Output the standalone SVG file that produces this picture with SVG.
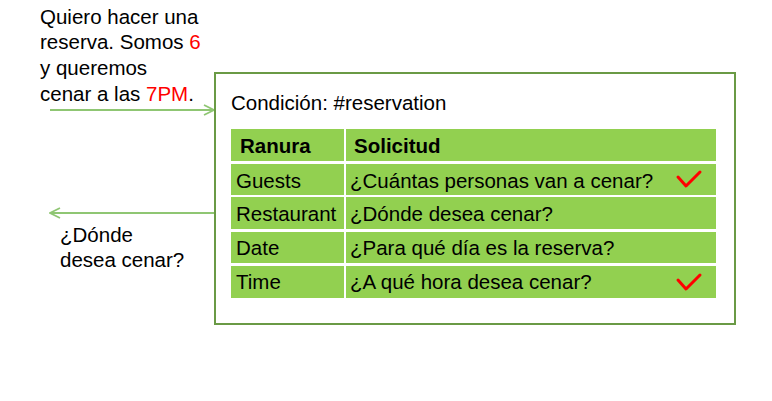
<svg xmlns="http://www.w3.org/2000/svg" width="772" height="401" viewBox="0 0 772 401">
<defs>
<style>
text{font-family:"Liberation Sans",Arial,sans-serif;fill:#000}
.t{font-size:20.5px}
.c{font-size:20.5px}
.b{font-weight:bold}
.red{fill:#ff0000}
.cell{fill:#92d050}
.conn{stroke:#8fc673;stroke-width:2;fill:none}
.chk{stroke:#ff0000;stroke-width:3;fill:none;stroke-linecap:round;stroke-linejoin:round}
</style>
<marker id="ah" viewBox="0 0 12 12" refX="11" refY="6" markerWidth="12" markerHeight="12" markerUnits="userSpaceOnUse" orient="auto">
<path d="M1,1 L11,6 L1,11" fill="none" stroke="#8fc673" stroke-width="1.8"/>
</marker>
</defs>
<rect width="772" height="401" fill="#fff"/>
<g id="user-msg">
<text class="t" x="40" y="24">Quiero hacer una</text>
<text class="t" x="40" y="49">reserva. Somos <tspan class="red">6</tspan></text>
<text class="t" x="40" y="75">y queremos</text>
<text class="t" x="40" y="101">cenar a las <tspan class="red">7PM</tspan>.</text>
</g>
<g id="bot-msg">
<text class="t" x="60" y="242">¿Dónde</text>
<text class="t" x="60" y="267">desea cenar?</text>
</g>
<g id="connectors">
<line class="conn" x1="50" y1="110" x2="214" y2="110" marker-end="url(#ah)"/>
<line class="conn" x1="214" y1="213" x2="50" y2="213" marker-end="url(#ah)"/>
</g>
<g id="condition">
<rect x="215" y="73" width="520" height="251" fill="#fff" stroke="#6a9a45" stroke-width="2"/>
<text class="c" x="231" y="110">Condición: #reservation</text>
<g id="table">
<rect class="cell" x="231" y="129" width="113" height="32"/>
<rect class="cell" x="346" y="129" width="370" height="32"/>
<rect class="cell" x="231" y="164" width="113" height="31"/>
<rect class="cell" x="346" y="164" width="370" height="31"/>
<rect class="cell" x="231" y="197" width="113" height="32"/>
<rect class="cell" x="346" y="197" width="370" height="32"/>
<rect class="cell" x="231" y="232" width="113" height="31"/>
<rect class="cell" x="346" y="232" width="370" height="31"/>
<rect class="cell" x="231" y="266" width="113" height="32"/>
<rect class="cell" x="346" y="266" width="370" height="32"/>
<text class="c b" x="240" y="153">Ranura</text>
<text class="c b" x="354" y="153">Solicitud</text>
<text class="c" x="236" y="188">Guests</text>
<text class="c" x="350" y="188">¿Cuántas personas van a cenar?</text>
<text class="c" x="236" y="221">Restaurant</text>
<text class="c" x="350" y="221">¿Dónde desea cenar?</text>
<text class="c" x="236" y="255">Date</text>
<text class="c" x="350" y="255">¿Para qué día es la reserva?</text>
<text class="c" x="236" y="289">Time</text>
<text class="c" x="350" y="289">¿A qué hora desea cenar?</text>
<path class="chk" d="M678,177 L686,186 L700,172"/>
<path class="chk" d="M678,280 L686,289 L700,275"/>
</g>
</g>
</svg>
